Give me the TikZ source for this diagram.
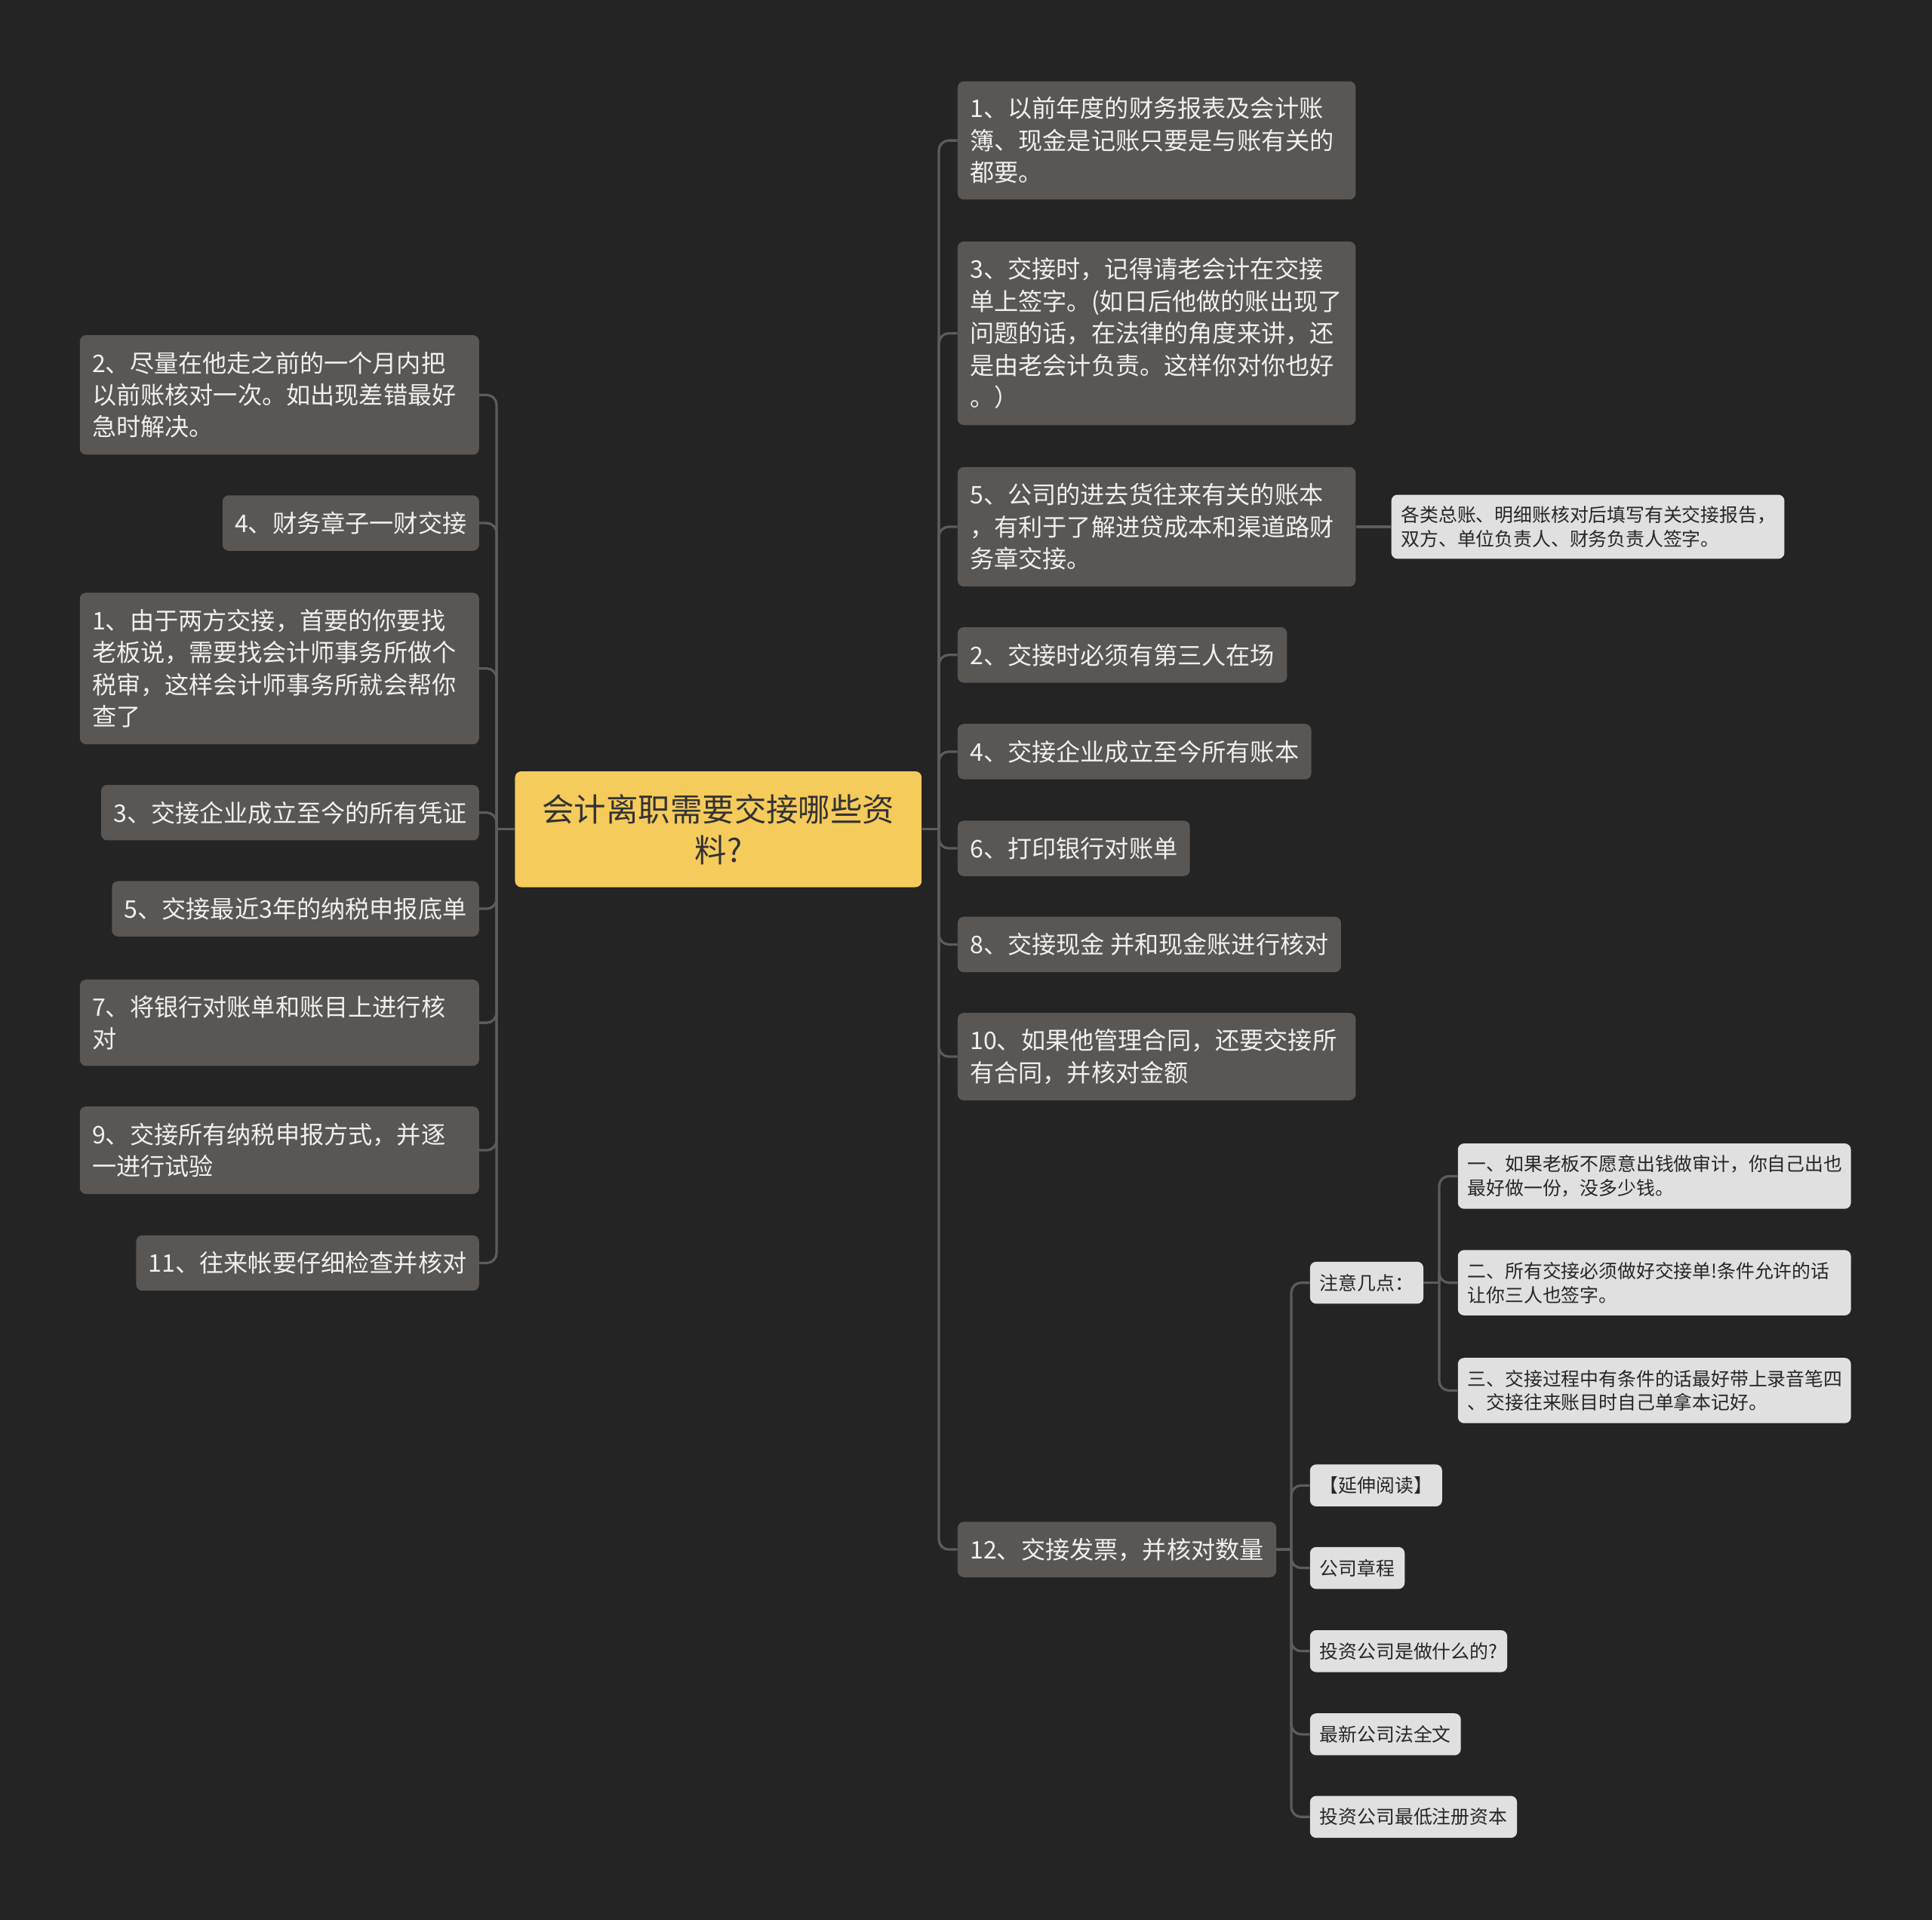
\documentclass[tikz,border=0pt]{standalone}
\usepackage{fontspec}
\setmainfont{Noto Sans CJK SC}
\usepackage{tikz}
\definecolor{BgDark}{RGB}{36,36,36}
\definecolor{TopicGray}{RGB}{89,86,84}
\definecolor{LeafGray}{RGB}{224,224,224}
\definecolor{RootYellow}{RGB}{245,203,92}
\definecolor{LinkGray}{RGB}{92,92,92}

\begin{document}
\begin{tikzpicture}[x=1pt, y=-1pt,
    topic/.style={rectangle, rounded corners=5pt, fill=TopicGray, text=white!94!black,
      font=\fontsize{19.7}{26}\selectfont, inner xsep=10pt, inner ysep=0pt,
      minimum height=45pt, align=left},
    leaf/.style={rectangle, rounded corners=5pt, fill=LeafGray, text=black!85,
      font=\fontsize{15.2}{19.5}\selectfont, inner xsep=8pt, inner ysep=0pt,
      minimum height=34pt, align=left},
    link/.style={draw=LinkGray, line width=2pt, rounded corners=8pt}]
  \fill[BgDark] (0,0) rectangle (1568,1558);
  \useasboundingbox (0,0) rectangle (1568,1558);

  \node[fill=RootYellow, rounded corners=5pt, minimum width=330pt, minimum height=94pt,
    text=black!80, font=\fontsize{26}{33}\selectfont, align=center] (root) at (583,673)
    {会计离职需要交接哪些资\\料?};

  \node[topic, anchor=west, text width=303pt, minimum height=96pt] (r1) at (777,114)
    {1、以前年度的财务报表及会计账\\簿、现金是记账只要是与账有关的\\都要。};
  \node[topic, anchor=west, text width=303pt, minimum height=149pt] (r3) at (777,270.5)
    {3、交接时，记得请老会计在交接\\单上签字。(如日后他做的账出现了\\问题的话，在法律的角度来讲，还\\是由老会计负责。这样你对你也好\\。）};
  \node[topic, anchor=west, text width=303pt, minimum height=97pt] (r5) at (777,427.5)
    {5、公司的进去货往来有关的账本\\，有利于了解进贷成本和渠道路财\\务章交接。};
  \node[topic, anchor=west] (r2) at (777,531.5) {2、交接时必须有第三人在场};
  \node[topic, anchor=west] (r4) at (777,610) {4、交接企业成立至今所有账本};
  \node[topic, anchor=west] (r6) at (777,688.5) {6、打印银行对账单};
  \node[topic, anchor=west] (r8) at (777,766.5) {8、交接现金 并和现金账进行核对};
  \node[topic, anchor=west, text width=303pt, minimum height=71pt] (r10) at (777,857.5)
    {10、如果他管理合同，还要交接所\\有合同，并核对金额};
  \node[topic, anchor=west] (r12) at (777,1257.5) {12、交接发票，并核对数量};

  \node[leaf, anchor=west, text width=303pt, minimum height=52pt] (r5a) at (1129,427.5)
    {各类总账、明细账核对后填写有关交接报告，\\双方、单位负责人、财务负责人签字。};

  \node[leaf, anchor=west] (notes) at (1063,1041) {注意几点：};
  \node[leaf, anchor=west, text width=303pt, minimum height=53pt] (n1) at (1183,954.5)
    {一、如果老板不愿意出钱做审计，你自己出也\\最好做一份，没多少钱。};
  \node[leaf, anchor=west, text width=303pt, minimum height=53pt] (n2) at (1183,1041)
    {二、所有交接必须做好交接单!条件允许的话\\让你三人也签字。};
  \node[leaf, anchor=west, text width=303pt, minimum height=53pt] (n3) at (1183,1128.5)
    {三、交接过程中有条件的话最好带上录音笔四\\、交接往来账目时自己单拿本记好。};
  \node[leaf, anchor=west] (more) at (1063,1205.5) {【延伸阅读】};
  \node[leaf, anchor=west] (charter) at (1063,1272.5) {公司章程};
  \node[leaf, anchor=west] (invest) at (1063,1340) {投资公司是做什么的?};
  \node[leaf, anchor=west] (law) at (1063,1407.5) {最新公司法全文};
  \node[leaf, anchor=west] (capital) at (1063,1474.5) {投资公司最低注册资本};

  \node[topic, anchor=east, text width=304pt, minimum height=97pt] (l2) at (389,320.5)
    {2、尽量在他走之前的一个月内把\\以前账核对一次。如出现差错最好\\急时解决。};
  \node[topic, anchor=east] (l4) at (389,424.5) {4、财务章子一财交接};
  \node[topic, anchor=east, text width=304pt, minimum height=123pt] (l1) at (389,542.5)
    {1、由于两方交接，首要的你要找\\老板说，需要找会计师事务所做个\\税审，这样会计师事务所就会帮你\\查了};
  \node[topic, anchor=east] (l3) at (389,659.5) {3、交接企业成立至今的所有凭证};
  \node[topic, anchor=east] (l5) at (389,737.5) {5、交接最近3年的纳税申报底单};
  \node[topic, anchor=east, text width=304pt, minimum height=70pt] (l7) at (389,830)
    {7、将银行对账单和账目上进行核\\对};
  \node[topic, anchor=east, text width=304pt, minimum height=71pt] (l9) at (389,933.5)
    {9、交接所有纳税申报方式，并逐\\一进行试验};
  \node[topic, anchor=east] (l11) at (389,1025) {11、往来帐要仔细检查并核对};

  \coordinate (rhub) at (762,673);
  \coordinate (lhub) at (403,673);
  \coordinate (dhub) at (1048,1257.5);
  \coordinate (nhub) at (1168,1041);
  \draw[link] (root.east) -- (rhub);
  \draw[link] (root.west) -- (lhub);
  \foreach \n in {r1,r3,r5,r2,r4,r6,r8,r10,r12}
    \draw[link] (rhub) |- (\n.west);
  \foreach \n in {l2,l4,l1,l3,l5,l7,l9,l11}
    \draw[link] (lhub) |- (\n.east);
  \draw[link] (r5.east) -- (r5a.west);
  \draw[link] (r12.east) -- (dhub);
  \foreach \n in {notes,more,charter,invest,law,capital}
    \draw[link] (dhub) |- (\n.west);
  \draw[link] (notes.east) -- (nhub);
  \foreach \n in {n1,n2,n3}
    \draw[link] (nhub) |- (\n.west);
\end{tikzpicture}
\end{document}
